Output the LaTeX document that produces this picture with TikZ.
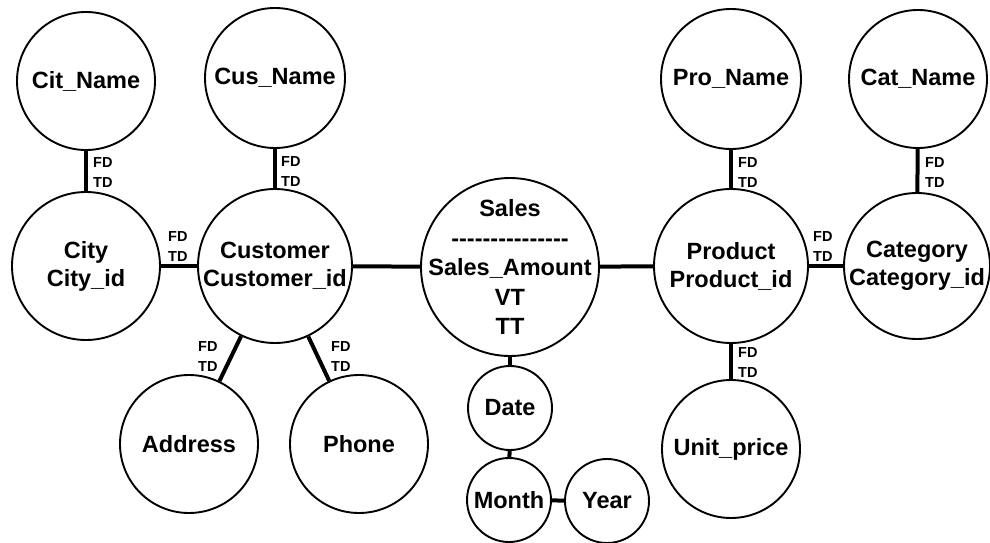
\documentclass[tikz,border=0pt]{standalone}
\usepackage{fontspec}
\setmainfont{Liberation Sans}
\newcommand\hyph{-\kern0pt}
\begin{document}
\begin{tikzpicture}[x=1pt,y=-1pt,
  ent/.style={circle,draw,line width=1.9pt,inner sep=0pt,fill=white},
  lbl/.style={align=center,inner sep=0pt,font=\bfseries\fontsize{23.5}{28}\selectfont},
  conn/.style={line width=4pt},
  fdtd/.style={anchor=west,align=left,inner sep=0pt,font=\bfseries\fontsize{14.5}{20}\selectfont}]
\useasboundingbox (0,0) rectangle (990,543);
% entities
\node[ent,minimum size=138pt,label={[lbl]center:{Cit\_Name}}] (citname) at (86,81) {};
\node[ent,minimum size=148pt,label={[lbl]center:{City\\City\_id}}] (city) at (86,266) {};
\node[ent,minimum size=140pt,label={[lbl]center:{Cus\_Name}}] (cusname) at (275,78) {};
\node[ent,minimum size=154pt,label={[lbl]center:{Customer\\Customer\_id}}] (customer) at (275,266) {};
\node[ent,minimum size=138pt,label={[lbl]center:{Address}}] (address) at (189,444) {};
\node[ent,minimum size=138pt,label={[lbl]center:{Phone}}] (phone) at (359,444) {};
\node[ent,minimum size=178pt,label={[lbl,font=\bfseries\fontsize{23.5}{29.5}\selectfont]center:{Sales\\\hyph\hyph\hyph\hyph\hyph\hyph\hyph\hyph\hyph\hyph\hyph\hyph\hyph\hyph-\\Sales\_Amount\\VT\\TT}}] (sales) at (510,267) {};
\node[ent,minimum size=84pt,label={[lbl]center:{Date}}] (date) at (510,408) {};
\node[ent,minimum size=84pt,label={[lbl]center:{Month}}] (month) at (509,500) {};
\node[ent,minimum size=84pt,label={[lbl]center:{Year}}] (year) at (607,501) {};
\node[ent,minimum size=140pt,label={[lbl]center:{Pro\_Name}}] (proname) at (731,79) {};
\node[ent,minimum size=154pt,label={[lbl]center:{Product\\Product\_id}}] (product) at (731,266) {};
\node[ent,minimum size=138pt,label={[lbl]center:{Unit\_price}}] (unitprice) at (731,449) {};
\node[ent,minimum size=138pt,label={[lbl]center:{Cat\_Name}}] (catname) at (918,79) {};
\node[ent,minimum size=146pt,label={[lbl]center:{Category\\Category\_id}}] (category) at (917,266) {};
% connectors
\draw[conn] (citname) -- (city);
\draw[conn] (cusname) -- (customer);
\draw[conn] (city) -- (customer);
\draw[conn] (customer) -- (address);
\draw[conn] (customer) -- (phone);
\draw[conn] (customer) -- (sales);
\draw[conn] (sales) -- (product);
\draw[conn] (sales) -- (date);
\draw[conn] (date) -- (month);
\draw[conn] (month) -- (year);
\draw[conn] (proname) -- (product);
\draw[conn] (catname) -- (category);
\draw[conn] (product) -- (category);
\draw[conn] (product) -- (unitprice);
% FD / TD labels
\node[fdtd] (l1) at (93,173) {FD\\TD};
\node[fdtd] (l2) at (281,172) {FD\\TD};
\node[fdtd] (l3) at (168,247) {FD\\TD};
\node[fdtd] (l4) at (198,357) {FD\\TD};
\node[fdtd] (l5) at (331,357) {FD\\TD};
\node[fdtd] (l6) at (738,173) {FD\\TD};
\node[fdtd] (l7) at (925,173) {FD\\TD};
\node[fdtd] (l8) at (813,247) {FD\\TD};
\node[fdtd] (l9) at (738,363) {FD\\TD};
\end{tikzpicture}
\end{document}
